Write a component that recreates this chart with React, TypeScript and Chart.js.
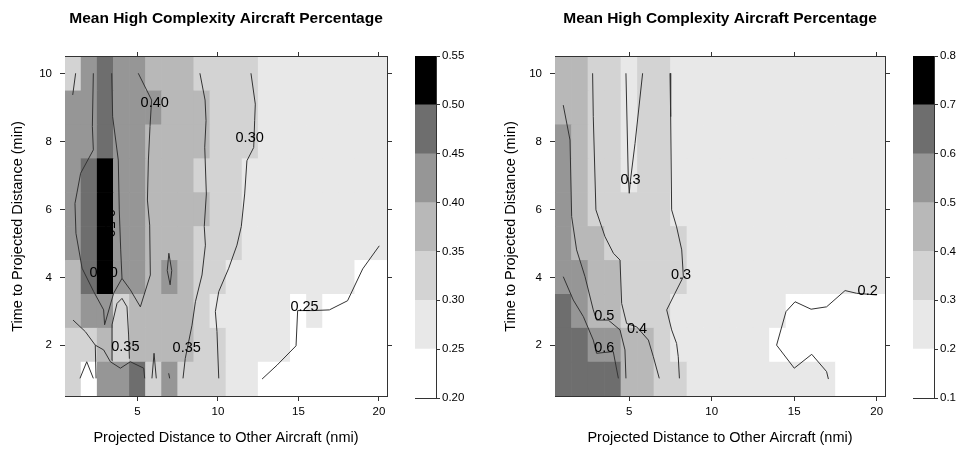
import React, { useEffect, useRef } from "react";
import { Chart, registerables } from "chart.js";

Chart.register(...registerables);
Chart.defaults.font.family = '"Liberation Sans", Arial, Helvetica, sans-serif';

type Pt = [number, number];
type Lbl = { text: string; x: number; y: number; rot?: number };

const TITLE = "Mean High Complexity Aircraft Percentage";
const X_TITLE = "Projected Distance to Other Aircraft (nmi)";
const Y_TITLE = "Time to Projected Distance (min)";

const LEVEL_COLORS = ["#ffffff", "#e8e8e8", "#d3d3d3", "#b8b8b8", "#969696", "#6e6e6e", "#000000"];

const leftLevels = [0.2, 0.25, 0.3, 0.35, 0.4, 0.45, 0.5, 0.55];
const leftLevelLabels = ["0.20", "0.25", "0.30", "0.35", "0.40", "0.45", "0.50", "0.55"];
const rightLevels = [0.1, 0.2, 0.3, 0.4, 0.5, 0.6, 0.7, 0.8];
const rightLevelLabels = ["0.1", "0.2", "0.3", "0.4", "0.5", "0.6", "0.7", "0.8"];

const xTicks = [5, 10, 15, 20];
const yTicks = [2, 4, 6, 8, 10];
const xCells = [1, 2, 3, 4, 5, 6, 7, 8, 9, 10, 11, 12, 13, 14, 15, 16, 17, 18, 19, 20];
const yCells = [1, 2, 3, 4, 5, 6, 7, 8, 9, 10];

// rows from y = 1 (bottom) to y = 10 (top), columns x = 1..20
const leftValues: number[][] = [
  [0.32, 0.24, 0.42, 0.43, 0.47, 0.33, 0.41, 0.34, 0.33, 0.31, 0.29, 0.27, 0.24, 0.23, 0.22, 0.22, 0.22, 0.21, 0.21, 0.21],
  [0.33, 0.34, 0.38, 0.33, 0.38, 0.37, 0.37, 0.36, 0.34, 0.31, 0.29, 0.28, 0.27, 0.26, 0.24, 0.23, 0.22, 0.22, 0.22, 0.21],
  [0.37, 0.41, 0.42, 0.34, 0.38, 0.37, 0.38, 0.36, 0.33, 0.29, 0.28, 0.28, 0.27, 0.26, 0.24, 0.26, 0.24, 0.23, 0.23, 0.22],
  [0.39, 0.46, 0.51, 0.41, 0.41, 0.39, 0.41, 0.37, 0.34, 0.31, 0.29, 0.28, 0.28, 0.27, 0.27, 0.27, 0.26, 0.26, 0.24, 0.23],
  [0.42, 0.47, 0.53, 0.43, 0.42, 0.39, 0.38, 0.37, 0.34, 0.32, 0.31, 0.29, 0.28, 0.28, 0.27, 0.27, 0.27, 0.26, 0.26, 0.26],
  [0.42, 0.48, 0.54, 0.44, 0.42, 0.39, 0.38, 0.37, 0.36, 0.33, 0.31, 0.29, 0.28, 0.28, 0.27, 0.27, 0.27, 0.27, 0.26, 0.26],
  [0.41, 0.47, 0.53, 0.44, 0.42, 0.39, 0.38, 0.37, 0.34, 0.33, 0.31, 0.29, 0.28, 0.28, 0.27, 0.27, 0.27, 0.27, 0.27, 0.27],
  [0.43, 0.44, 0.47, 0.44, 0.42, 0.39, 0.38, 0.37, 0.36, 0.34, 0.32, 0.31, 0.29, 0.28, 0.28, 0.27, 0.27, 0.27, 0.27, 0.27],
  [0.41, 0.44, 0.48, 0.44, 0.43, 0.41, 0.38, 0.37, 0.36, 0.34, 0.32, 0.31, 0.29, 0.28, 0.28, 0.28, 0.27, 0.27, 0.27, 0.27],
  [0.34, 0.43, 0.47, 0.43, 0.42, 0.39, 0.38, 0.36, 0.34, 0.33, 0.32, 0.31, 0.29, 0.28, 0.28, 0.28, 0.27, 0.27, 0.27, 0.27],
];

const rightValues: number[][] = [
  [0.66, 0.65, 0.63, 0.61, 0.47, 0.44, 0.38, 0.32, 0.28, 0.26, 0.25, 0.24, 0.23, 0.23, 0.22, 0.22, 0.21, 0.19, 0.18, 0.18],
  [0.67, 0.62, 0.57, 0.53, 0.48, 0.43, 0.37, 0.29, 0.27, 0.26, 0.25, 0.24, 0.22, 0.19, 0.18, 0.17, 0.17, 0.18, 0.18, 0.19],
  [0.63, 0.58, 0.49, 0.46, 0.39, 0.36, 0.32, 0.29, 0.27, 0.26, 0.25, 0.24, 0.23, 0.21, 0.19, 0.18, 0.18, 0.18, 0.19, 0.19],
  [0.58, 0.53, 0.48, 0.44, 0.39, 0.37, 0.34, 0.31, 0.28, 0.27, 0.26, 0.25, 0.24, 0.23, 0.23, 0.22, 0.22, 0.22, 0.21, 0.21],
  [0.56, 0.49, 0.43, 0.39, 0.36, 0.34, 0.33, 0.31, 0.28, 0.27, 0.26, 0.26, 0.25, 0.25, 0.24, 0.24, 0.23, 0.23, 0.23, 0.22],
  [0.55, 0.48, 0.39, 0.37, 0.33, 0.35, 0.34, 0.29, 0.28, 0.27, 0.26, 0.26, 0.25, 0.25, 0.25, 0.24, 0.24, 0.24, 0.23, 0.23],
  [0.54, 0.47, 0.38, 0.36, 0.29, 0.34, 0.33, 0.28, 0.28, 0.27, 0.27, 0.26, 0.26, 0.25, 0.25, 0.25, 0.24, 0.24, 0.24, 0.24],
  [0.52, 0.47, 0.38, 0.35, 0.28, 0.35, 0.33, 0.28, 0.28, 0.27, 0.27, 0.26, 0.26, 0.26, 0.25, 0.25, 0.25, 0.24, 0.24, 0.24],
  [0.49, 0.46, 0.37, 0.34, 0.27, 0.34, 0.32, 0.28, 0.28, 0.27, 0.27, 0.27, 0.26, 0.26, 0.26, 0.25, 0.25, 0.25, 0.25, 0.24],
  [0.48, 0.45, 0.37, 0.34, 0.27, 0.33, 0.32, 0.28, 0.28, 0.27, 0.27, 0.27, 0.26, 0.26, 0.26, 0.26, 0.25, 0.25, 0.25, 0.25],
];

// contour polylines (data units)
const leftContourTopLeft: Pt[] = [[1.16, 10.02], [0.98, 9.38]];
const leftContourBandLeft: Pt[] = [[2.26, 10.02], [2.2, 8.45], [2.26, 7.76], [1.47, 7.07], [1.12, 6.18], [1.18, 5.3], [1.56, 4.27], [2.28, 3.58], [2.9, 3.04], [2.96, 2.6]];
const leftContourW: Pt[] = [[2.96, 2.6], [3.52, 3.53], [4.04, 3.97], [4.56, 3.63], [5.18, 3.13], [5.8, 4.07], [5.76, 5.54], [5.62, 6.28], [5.68, 7.46], [5.78, 8.45], [5.88, 9.23], [5.05, 10.02]];
const leftContourBandRight: Pt[] = [[3.4, 10.02], [3.46, 8.74], [3.81, 7.46], [3.87, 5.99], [3.96, 4.81], [4.04, 3.97]];
const leftContourBlob: Pt[] = [[6.95, 4.71], [6.85, 4.2], [7.03, 3.78], [7.13, 4.2], [6.95, 4.71]];
const leftContourLow: Pt[] = [[1.0, 2.74], [1.76, 2.4], [2.38, 2.0], [2.9, 1.86], [3.32, 1.51], [3.94, 1.32], [4.56, 1.51], [5.39, 1.32], [5.45, 1.02]];
const leftContourLowBranch: Pt[] = [[2.38, 2.0], [2.43, 1.02]];
const leftContourInner: Pt[] = [[3.45, 1.55], [3.42, 2.6], [3.73, 3.23], [4.04, 3.38], [4.35, 3.13], [4.45, 2.3], [4.5, 1.6]];
const leftContourLambda: Pt[] = [[1.43, 1.02], [1.85, 1.51], [2.26, 1.02]];
const leftContourSpike: Pt[] = [[5.9, 1.02], [6.03, 1.76], [6.17, 1.02]];
const leftContourTiny: Pt[] = [[6.94, 1.17], [7.0, 1.02]];
const leftContour035: Pt[] = [[8.88, 10.02], [9.2, 9.23], [9.26, 8.62], [9.18, 7.84], [9.28, 6.46], [9.15, 5.5], [9.22, 4.95], [9.01, 4.07], [8.6, 3.28], [8.39, 2.59], [7.97, 1.61], [7.83, 1.02]];
const leftContour030: Pt[] = [[12.05, 10.02], [12.32, 9.11], [12.28, 8.62], [12.22, 7.83], [11.8, 7.44], [11.66, 6.46], [11.45, 5.5], [11.18, 4.95], [10.67, 4.27], [10.05, 3.58], [9.84, 2.99], [9.94, 2.4], [10.05, 1.02]];
const leftContour025: Pt[] = [[12.74, 1.0], [13.67, 1.41], [14.85, 1.98], [14.95, 3.02], [15.92, 3.02], [16.92, 3.04], [18.05, 3.31], [18.99, 4.25], [20.02, 4.93]];

const leftContours: Pt[][] = [
  leftContourTopLeft, leftContourBandLeft, leftContourW, leftContourBandRight, leftContourBlob,
  leftContourLow, leftContourLowBranch, leftContourInner, leftContourLambda, leftContourSpike,
  leftContourTiny, leftContour035, leftContour030, leftContour025,
];

const leftLabels: Lbl[] = [
  { text: "0.40", x: 6.07, y: 9.14 },
  { text: "0.30", x: 11.97, y: 8.1 },
  { text: "0.25", x: 15.38, y: 3.14 },
  { text: "0.35", x: 4.25, y: 1.95 },
  { text: "0.35", x: 8.06, y: 1.93 },
  { text: "0.50", x: 2.9, y: 4.12 },
  { text: "0.50", x: 3.25, y: 5.6, rot: 90 },
];

const rightContour05: Pt[] = [[1.0, 9.08], [1.41, 8.05], [1.51, 5.79], [1.81, 4.81], [2.32, 4.02], [2.82, 3.04], [3.02, 2.74], [3.73, 2.74], [4.44, 2.45], [4.74, 1.86], [4.8, 1.02]];
const rightContour06: Pt[] = [[1.0, 4.02], [1.61, 3.33], [2.22, 2.84], [2.82, 2.15], [3.02, 1.76], [4.03, 1.81], [4.34, 1.02]];
const rightContour04: Pt[] = [[2.78, 10.02], [2.82, 8.74], [2.98, 5.99], [3.53, 5.2], [4.04, 4.71], [4.44, 4.51], [4.54, 3.23], [4.84, 2.64], [5.45, 2.54], [6.16, 2.15], [6.46, 1.66], [6.82, 1.02]];
const rightContour03V: Pt[] = [[4.8, 10.02], [4.94, 6.97], [5.0, 6.48], [5.05, 6.77], [5.35, 7.95], [5.81, 10.02]];
const rightContour03: Pt[] = [[7.47, 10.02], [7.51, 8.74], [7.57, 5.99], [7.87, 5.49], [8.18, 4.81], [8.28, 4.02], [7.77, 3.53], [7.27, 3.04], [7.57, 2.45], [7.87, 2.05], [7.97, 1.66], [8.04, 1.02]];
const rightContour02: Pt[] = [[17.07, 1.0], [16.96, 1.22], [16.06, 1.73], [15.0, 1.32], [13.93, 2.0], [14.5, 2.99], [15.05, 3.28], [16.02, 3.06], [16.96, 3.13], [18.08, 3.61], [18.78, 3.53], [20.0, 3.48]];

const rightContours: Pt[][] = [rightContour05, rightContour06, rightContour04, rightContour03V, rightContour03, rightContour02];

const rightLabels: Lbl[] = [
  { text: "0.3", x: 5.08, y: 6.88 },
  { text: "0.3", x: 8.14, y: 4.07 },
  { text: "0.5", x: 3.49, y: 2.87 },
  { text: "0.4", x: 5.47, y: 2.48 },
  { text: "0.6", x: 3.49, y: 1.91 },
  { text: "0.2", x: 19.45, y: 3.61 },
];

const AXIS = "#333333";
const TICK_FONT = 11.5;
const AXIS_TITLE_FONT = 14.5;

function colorFor(v: number, levels: number[]): string {
  for (let i = 0; i < levels.length - 1; i++) {
    if (v >= levels[i] && v < levels[i + 1]) return LEVEL_COLORS[i];
  }
  return v < levels[0] ? LEVEL_COLORS[0] : LEVEL_COLORS[LEVEL_COLORS.length - 1];
}

type MainCfg = {
  values: number[][];
  levels: number[];
  contours: Pt[][];
  labels: Lbl[];
  yAxisWidth: number;
  rightWidth: number;
  yTitlePad: number;
};

function makeMain(canvas: HTMLCanvasElement, cfg: MainCfg) {
  const labelPlugin = {
    id: "contourLabels",
    afterDatasetsDraw(chart: any) {
      const ctx = chart.ctx;
      const xs = chart.scales.x;
      const ys = chart.scales.y;
      ctx.save();
      ctx.font = '14.5px "Liberation Sans", Arial, sans-serif';
      ctx.fillStyle = "#000";
      ctx.textAlign = "center";
      ctx.textBaseline = "middle";
      for (const l of cfg.labels) {
        const px = xs.getPixelForValue(l.x);
        const py = ys.getPixelForValue(l.y);
        ctx.save();
        ctx.translate(px, py);
        if (l.rot) ctx.rotate((l.rot * Math.PI) / 180);
        ctx.fillText(l.text, 0, 0);
        ctx.restore();
      }
      ctx.restore();
    },
  };

  const datasets: any[] = [];
  cfg.contours.forEach((c) => {
    datasets.push({
      type: "line",
      order: 1,
      data: c.map(([x, y]) => ({ x, y })),
      borderColor: AXIS,
      borderWidth: 1,
      pointRadius: 0,
      pointHoverRadius: 0,
      fill: false,
      tension: 0,
      xAxisID: "x",
      yAxisID: "y",
    });
  });
  cfg.values.forEach((row, ri) => {
    const r = yCells[ri];
    datasets.push({
      type: "bar",
      order: 2,
      data: row.map((_v, ci) => ({ x: xCells[ci], y: [r - 0.5, r + 0.5] })),
      backgroundColor: row.map((v) => colorFor(v, cfg.levels)),
      borderWidth: 0,
      grouped: false,
      barPercentage: 1,
      categoryPercentage: 1,
      xAxisID: "x",
      yAxisID: "y",
    });
  });

  const gridOpts = { drawOnChartArea: false, drawTicks: true, tickLength: 5, color: AXIS };
  const border = { display: true, color: AXIS, width: 1 };
  const setX = (s: any) => { s.ticks = xTicks.map((v) => ({ value: v })); };
  const setY = (s: any) => { s.ticks = yTicks.map((v) => ({ value: v })); };

  return new Chart(canvas, {
    type: "bar",
    data: { datasets },
    plugins: [labelPlugin as any],
    options: {
      animation: false,
      responsive: false,
      devicePixelRatio: 1,
      events: [],
      layout: { padding: 0 },
      plugins: {
        legend: { display: false },
        tooltip: { enabled: false },
        title: {
          display: true,
          text: TITLE,
          color: "#000",
          font: { size: 15.5, weight: "bold" },
          padding: { top: 9, bottom: 9 },
        },
      },
      scales: {
        x: {
          type: "linear",
          position: "bottom",
          offset: false,
          min: 0.5,
          max: 20.5,
          afterBuildTicks: setX,
          ticks: { color: "#000", font: { size: TICK_FONT }, padding: 4, maxRotation: 0, autoSkip: false },
          grid: { ...gridOpts, offset: false },
          border,
          title: { display: true, text: X_TITLE, color: "#000", font: { size: AXIS_TITLE_FONT }, padding: { top: 0, bottom: 6 } },
          afterFit: (s: any) => { s.height = 57; },
        },
        x2: {
          type: "linear",
          position: "top",
          offset: false,
          min: 0.5,
          max: 20.5,
          afterBuildTicks: setX,
          ticks: { display: false },
          grid: { ...gridOpts, offset: false },
          border,
          afterFit: (s: any) => { s.height = 20.4; },
        },
        y: {
          type: "linear",
          position: "left",
          offset: false,
          min: 0.5,
          max: 10.5,
          afterBuildTicks: setY,
          ticks: { color: "#000", font: { size: TICK_FONT }, padding: 8, autoSkip: false },
          grid: gridOpts,
          border,
          title: { display: true, text: Y_TITLE, color: "#000", font: { size: AXIS_TITLE_FONT }, padding: { top: cfg.yTitlePad, bottom: 0 } },
          afterFit: (s: any) => { s.width = cfg.yAxisWidth; },
        },
        y2: {
          type: "linear",
          position: "right",
          offset: false,
          min: 0.5,
          max: 10.5,
          afterBuildTicks: setY,
          ticks: { display: false },
          grid: gridOpts,
          border,
          afterFit: (s: any) => { s.width = cfg.rightWidth; },
        },
      },
    } as any,
  });
}

function makeKey(canvas: HTMLCanvasElement, levels: number[], labels: string[], padLeft: number, axisWidth: number) {
  const datasets = levels.slice(0, -1).map((lo, i) => ({
    type: "bar",
    data: [[lo, levels[i + 1]]],
    backgroundColor: LEVEL_COLORS[i],
    borderWidth: 0,
    grouped: false,
    barPercentage: 1,
    categoryPercentage: 1,
    xAxisID: "x",
    yAxisID: "y",
  }));
  const border = { display: true, color: AXIS, width: 1 };
  const lo = levels[0];
  const hi = levels[levels.length - 1];
  return new Chart(canvas, {
    type: "bar",
    data: { labels: [""], datasets: datasets as any },
    options: {
      animation: false,
      responsive: false,
      devicePixelRatio: 1,
      events: [],
      layout: { padding: { left: padLeft, top: 56, bottom: 55, right: 0 } },
      plugins: { legend: { display: false }, tooltip: { enabled: false }, title: { display: false } },
      scales: {
        x: { type: "category", position: "bottom", ticks: { display: false }, grid: { display: false }, border, afterFit: (s: any) => { s.height = 0; } },
        xt: { type: "category", position: "top", labels: [""], ticks: { display: false }, grid: { display: false }, border, afterFit: (s: any) => { s.height = 0; } },
        y: { type: "linear", position: "left", min: lo, max: hi, ticks: { display: false }, grid: { display: false }, border, afterFit: (s: any) => { s.width = 0; } },
        yr: {
          type: "linear",
          position: "right",
          min: lo,
          max: hi,
          afterBuildTicks: (s: any) => { s.ticks = levels.map((v) => ({ value: v })); },
          ticks: {
            color: "#000",
            font: { size: TICK_FONT },
            padding: 2,
            autoSkip: false,
            callback: (v: any) => {
              const idx = levels.findIndex((l) => Math.abs(l - Number(v)) < 1e-9);
              return idx >= 0 ? labels[idx] : "";
            },
          },
          grid: { drawOnChartArea: false, drawTicks: true, tickLength: 4, color: AXIS },
          border,
          afterFit: (s: any) => { s.width = axisWidth; },
        },
      },
    } as any,
  });
}

export default function App() {
  const leftMain = useRef<HTMLCanvasElement>(null);
  const rightMain = useRef<HTMLCanvasElement>(null);
  const leftKey = useRef<HTMLCanvasElement>(null);
  const rightKey = useRef<HTMLCanvasElement>(null);

  useEffect(() => {
    const charts: Chart[] = [];
    if (leftMain.current)
      charts.push(makeMain(leftMain.current, { values: leftValues, levels: leftLevels, contours: leftContours, labels: leftLabels, yAxisWidth: 65, rightWidth: 65, yTitlePad: 9.5 }));
    if (rightMain.current)
      charts.push(makeMain(rightMain.current, { values: rightValues, levels: rightLevels, contours: rightContours, labels: rightLabels, yAxisWidth: 65, rightWidth: 65, yTitlePad: 12.5 }));
    if (leftKey.current) charts.push(makeKey(leftKey.current, leftLevels, leftLevelLabels, 15, 44));
    if (rightKey.current) charts.push(makeKey(rightKey.current, rightLevels, rightLevelLabels, 23, 34));
    return () => charts.forEach((c) => c.destroy());
  }, []);

  const cs = (left: number, width: number): React.CSSProperties => ({ position: "absolute", left, top: 0, width, height: 453 });

  return (
    <div style={{ position: "fixed", left: 0, top: 0, width: 968, height: 453, background: "#fff", overflow: "hidden" }}>
      <canvas ref={leftMain} width={452} height={453} style={cs(0, 452)} />
      <canvas ref={rightMain} width={460} height={453} style={cs(490, 460)} />
      <canvas ref={leftKey} width={80} height={453} style={cs(400, 80)} />
      <canvas ref={rightKey} width={78} height={453} style={cs(890, 78)} />
    </div>
  );
}
